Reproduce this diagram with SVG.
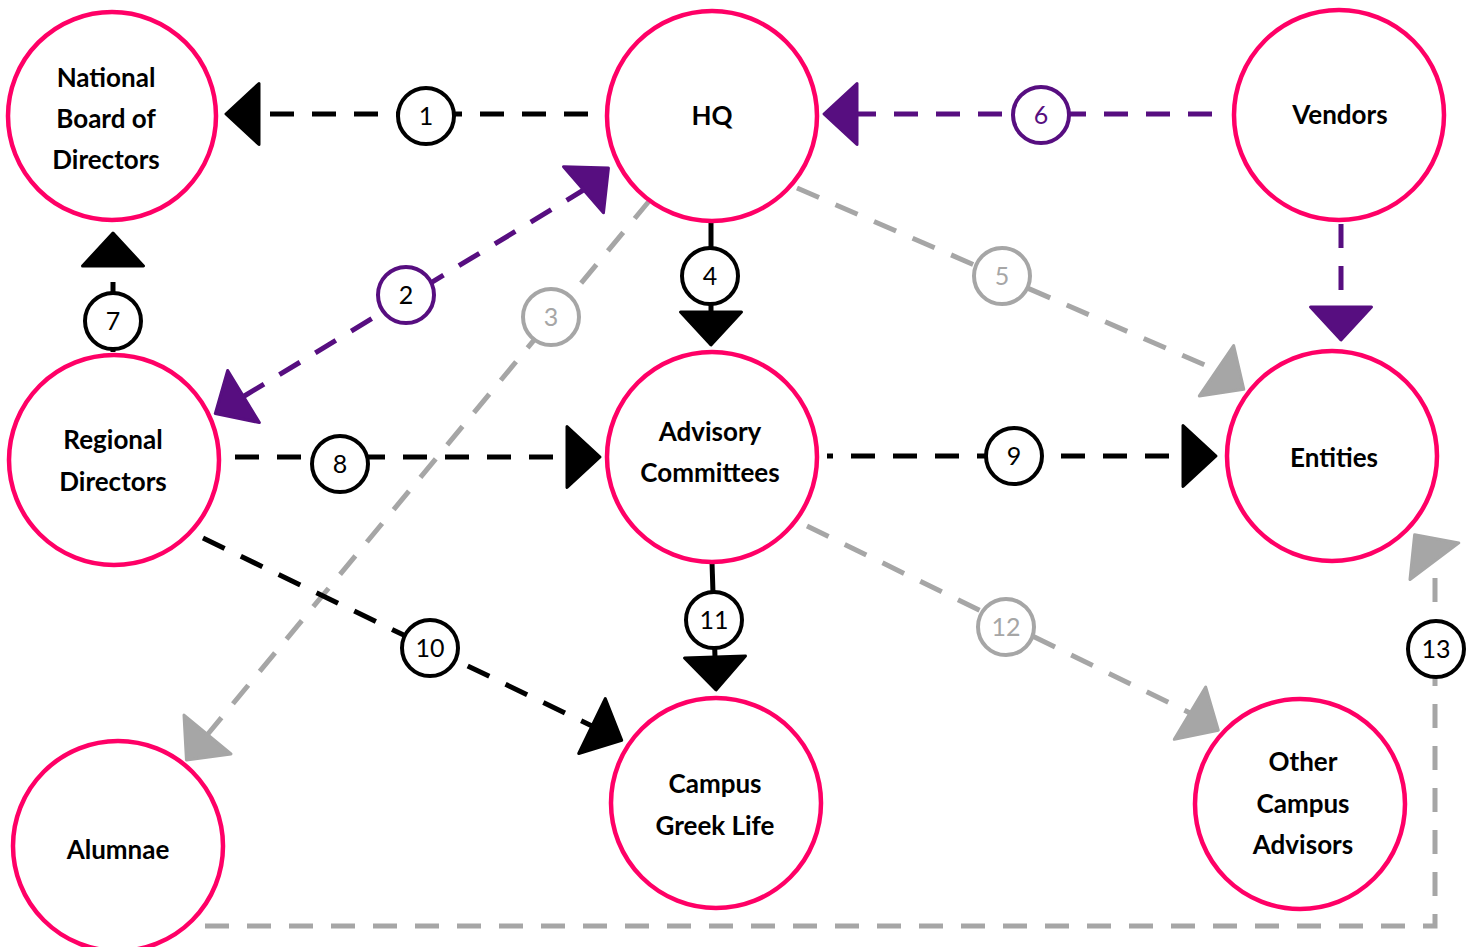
<svg xmlns="http://www.w3.org/2000/svg" width="1477" height="947" viewBox="0 0 1477 947">
<style>
.node circle{fill:#fff;stroke:#FF0066;stroke-width:4.5}
.node text{font-family:Lato,"Liberation Sans",sans-serif;font-weight:bold;font-size:26px;text-anchor:middle;fill:#000}
.ln{fill:none;stroke-width:5}
.dash{stroke-dasharray:24 18}
.k{stroke:#000}
.p{stroke:#570E80}
.g{stroke:#A6A6A6}
.lbl circle{fill:#fff;stroke-width:4}
.lbl text{font-family:Lato,"Liberation Sans",sans-serif;font-size:25px;text-anchor:middle}
</style>
<defs>
<marker id="ak" markerUnits="userSpaceOnUse" viewBox="-3 -36 42 72" markerWidth="42" markerHeight="72" refX="0" refY="0" orient="auto-start-reverse"><path d="M0,-30.5 L33,0 L0,30.5 Z" fill="#000" stroke="#000" stroke-width="3" stroke-linejoin="round"/></marker>
<marker id="ap" markerUnits="userSpaceOnUse" viewBox="-3 -36 42 72" markerWidth="42" markerHeight="72" refX="0" refY="0" orient="auto-start-reverse"><path d="M0,-30.5 L33,0 L0,30.5 Z" fill="#570E80" stroke="#570E80" stroke-width="3" stroke-linejoin="round"/></marker>
<marker id="ag" markerUnits="userSpaceOnUse" viewBox="-3 -36 42 72" markerWidth="42" markerHeight="72" refX="0" refY="0" orient="auto-start-reverse"><path d="M0,-30.5 L33,0 L0,30.5 Z" fill="#A6A6A6" stroke="#A6A6A6" stroke-width="3" stroke-linejoin="round"/></marker>
</defs>
<rect width="1477" height="947" fill="#fff"/>
<g id="connectors">
<path class="ln dash k" d="M588,114 H259" marker-end="url(#ak)"/>
<path class="ln dash p" d="M243.5,396.5 L582,191 L583.5,189.7" marker-start="url(#ap)" marker-end="url(#ap)"/>
<path class="ln dash g" d="M650,200 L207.5,734.5" marker-end="url(#ag)"/>
<path class="ln k" d="M711,222 V312" marker-end="url(#ak)"/>
<path class="ln dash g" d="M797,188 L1214,369 L1216.5,370.7" marker-end="url(#ag)"/>
<path class="ln dash p" d="M1212,114 H857" marker-end="url(#ap)"/>
<path class="ln dash p" d="M1341,224 V307" marker-end="url(#ap)"/>
<path class="ln k" d="M113,352 V266" style="stroke-dasharray:70 16" marker-end="url(#ak)"/>
<path class="ln dash k" d="M235,457 H567" marker-end="url(#ak)"/>
<path class="ln dash k" d="M827,456 H1183" style="stroke-dashoffset:18" marker-end="url(#ak)"/>
<path class="ln dash k" d="M203,538 L592,726" marker-end="url(#ak)"/>
<path class="ln k" d="M712,562 L715,657" marker-end="url(#ak)"/>
<path class="ln dash g" d="M807,526 L1188,712 L1190,713.2" marker-end="url(#ag)"/>
<path class="ln dash g" d="M205,926 H1435 V562 L1434.4,561.2" marker-end="url(#ag)"/>
<g class="lbl">
<circle cx="426" cy="116" r="28" stroke="#000"/><text x="426" y="125" fill="#000">1</text>
<circle cx="406" cy="295" r="28" stroke="#570E80"/><text x="406" y="304" fill="#000">2</text>
<circle cx="551" cy="317" r="28" stroke="#A6A6A6"/><text x="551" y="326" fill="#A6A6A6">3</text>
<circle cx="710" cy="276" r="28" stroke="#000"/><text x="710" y="285" fill="#000">4</text>
<circle cx="1002" cy="276" r="28" stroke="#A6A6A6"/><text x="1002" y="285" fill="#A6A6A6">5</text>
<circle cx="1041" cy="115" r="28" stroke="#570E80"/><text x="1041" y="124" fill="#570E80">6</text>
<circle cx="113" cy="321" r="28" stroke="#000"/><text x="113" y="330" fill="#000">7</text>
<circle cx="340" cy="464" r="28" stroke="#000"/><text x="340" y="473" fill="#000">8</text>
<circle cx="1014" cy="456" r="28" stroke="#000"/><text x="1014" y="465" fill="#000">9</text>
<circle cx="430" cy="648" r="28" stroke="#000"/><text x="430" y="657" fill="#000">10</text>
<circle cx="714" cy="620" r="28" stroke="#000"/><text x="714" y="629" fill="#000">11</text>
<circle cx="1006" cy="627" r="28" stroke="#A6A6A6"/><text x="1006" y="636" fill="#A6A6A6">12</text>
<circle cx="1436" cy="649" r="28" stroke="#000"/><text x="1436" y="658" fill="#000">13</text>
</g>
</g>
<g id="n-national" class="node"><circle cx="112" cy="116" r="104"/><text x="106" y="87">National</text><text x="106" y="128">Board of</text><text x="106" y="169">Directors</text></g>
<g id="n-hq" class="node"><circle cx="712" cy="116" r="105"/><text x="712" y="125">HQ</text></g>
<g id="n-vendors" class="node"><circle cx="1339" cy="115" r="105"/><text x="1340" y="124">Vendors</text></g>
<g id="n-regional" class="node"><circle cx="114" cy="460" r="105"/><text x="113" y="449">Regional</text><text x="113" y="491">Directors</text></g>
<g id="n-advisory" class="node"><circle cx="712" cy="457" r="105"/><text x="710" y="441">Advisory</text><text x="710" y="482">Committees</text></g>
<g id="n-entities" class="node"><circle cx="1332" cy="456" r="105"/><text x="1334" y="467">Entities</text></g>
<g id="n-alumnae" class="node"><circle cx="118" cy="846" r="105"/><text x="118" y="859">Alumnae</text></g>
<g id="n-greek" class="node"><circle cx="716" cy="803" r="105"/><text x="715" y="793">Campus</text><text x="715" y="835">Greek Life</text></g>
<g id="n-other" class="node"><circle cx="1300" cy="804" r="105"/><text x="1303" y="771">Other</text><text x="1303" y="813">Campus</text><text x="1303" y="854">Advisors</text></g>
</svg>
